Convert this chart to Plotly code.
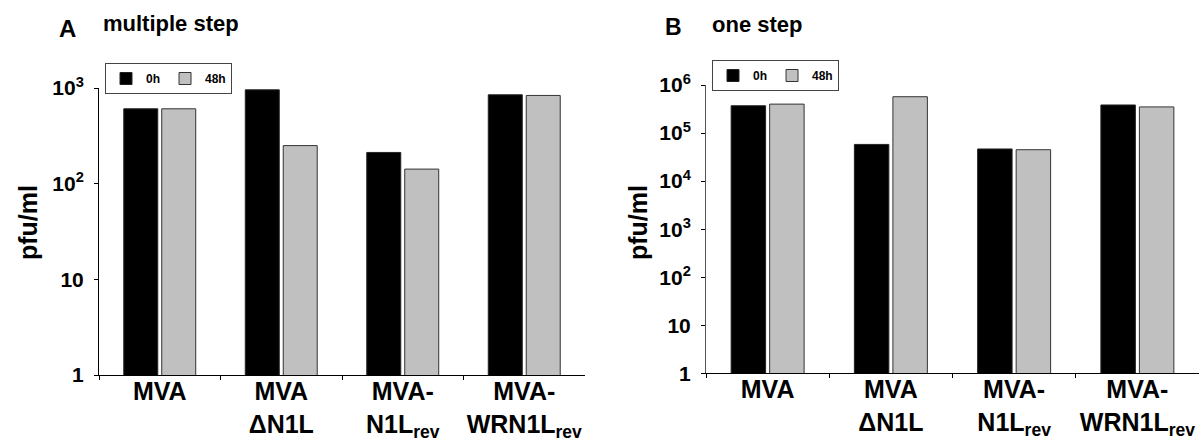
import plotly.graph_objects as go

# ---- data ----
categories = ["MVA", "MVA<br>ΔN1L", "MVA-<br>N1L<sub>rev</sub>", "MVA-<br>WRN1L<sub>rev</sub>"]
series_names = ["0h", "48h"]
multi_0h = [606, 957, 212, 849]
multi_48h = [606, 250, 142, 836]
one_0h = [3.7e5, 5.8e4, 4.66e4, 3.84e5]
one_48h = [4.0e5, 5.7e5, 4.5e4, 3.5e5]

tickvals_a = [1, 10, 100, 1000]
ticktext_a = ["1", "10", "10<sup>2</sup>", "10<sup>3</sup>"]
tickvals_b = [1, 10, 100, 1e3, 1e4, 1e5, 1e6]
ticktext_b = ["1", "10", "10<sup>2</sup>", "10<sup>3</sup>", "10<sup>4</sup>", "10<sup>5</sup>", "10<sup>6</sup>"]

FONT = "Liberation Sans, Arial, Helvetica, sans-serif"
W, H = 1200, 441
colors = ["#000000", "#c0c0c0"]
edges = ["#222222", "#333333"]

fig = go.Figure()
for i, (vals, name) in enumerate([(multi_0h, series_names[0]), (multi_48h, series_names[1])]):
    fig.add_trace(go.Bar(x=categories, y=vals, name=name, xaxis="x", yaxis="y",
                         marker=dict(color=colors[i], line=dict(color=edges[i], width=1)),
                         legend="legend"))
for i, (vals, name) in enumerate([(one_0h, series_names[0]), (one_48h, series_names[1])]):
    fig.add_trace(go.Bar(x=categories, y=vals, name=name, xaxis="x2", yaxis="y2",
                         marker=dict(color=colors[i], line=dict(color=edges[i], width=1)),
                         legend="legend2"))

def px_x(p):
    return p / W

def px_y(p):
    return (H - p) / H

tickfont_y = dict(family=FONT, size=21, color="black", weight="bold")
tickfont_x = dict(family=FONT, size=25, color="black", weight="bold")

xaxis_common = dict(type="category", showline=True, linecolor="black", linewidth=1,
                    ticks="outside", ticklen=4, tickcolor="black", tickson="boundaries",
                    tickfont=tickfont_x, showgrid=False, zeroline=False, automargin=False,
                    ticklabelstandoff=-6)
yaxis_common = dict(type="log", showline=True, linewidth=1, ticks="outside", ticklen=4,
                    tickcolor="black", tickfont=tickfont_y, showgrid=False, zeroline=False,
                    automargin=False, ticklabelstandoff=6)

legend_font = dict(family=FONT, size=12, color="black", weight="bold")

fig.update_layout(
    width=W, height=H,
    margin=dict(l=0, r=0, t=0, b=0, autoexpand=False),
    paper_bgcolor="white", plot_bgcolor="white",
    barmode="group", bargap=0.375, bargroupgap=0.105,
    font=dict(family=FONT, color="black"),
    xaxis=dict(domain=[px_x(99), px_x(585)], anchor="y", **xaxis_common),
    yaxis=dict(domain=[px_y(375), px_y(88)], anchor="x", range=[0, 3],
               tickvals=tickvals_a, ticktext=ticktext_a, linecolor="black", **yaxis_common),
    xaxis2=dict(domain=[px_x(706), px_x(1199)], anchor="y2", **xaxis_common),
    yaxis2=dict(domain=[px_y(373.3), px_y(85)], anchor="x2", range=[0, 6],
                tickvals=tickvals_b, ticktext=ticktext_b, linecolor="#555555", **yaxis_common),
    legend=dict(x=px_x(105), y=px_y(63), xanchor="left", yanchor="top", orientation="h",
                bordercolor="#444444", borderwidth=1, bgcolor="white", itemwidth=30,
                tracegroupgap=0, font=legend_font),
    legend2=dict(x=px_x(712), y=px_y(60), xanchor="left", yanchor="top", orientation="h",
                 bordercolor="#444444", borderwidth=1, bgcolor="white", itemwidth=30,
                 tracegroupgap=0, font=legend_font),
)

annotations = [
    dict(text="A", x=px_x(67), y=px_y(28), font=dict(size=24, weight="bold")),
    dict(text="multiple step", x=px_x(171), y=px_y(24), font=dict(size=22, weight="bold")),
    dict(text="B", x=px_x(673), y=px_y(27), font=dict(size=23, weight="bold")),
    dict(text="one step", x=px_x(757), y=px_y(25), font=dict(size=22, weight="bold")),
    dict(text="pfu/ml", x=px_x(28), y=px_y(223), textangle=-90, font=dict(size=25, weight="bold")),
    dict(text="pfu/ml", x=px_x(638), y=px_y(223), textangle=-90, font=dict(size=25, weight="bold")),
]
for a in annotations:
    a.update(xref="paper", yref="paper", showarrow=False, xanchor="center", yanchor="middle")
    a["font"].update(family=FONT, color="black")
fig.update_layout(annotations=annotations)

fig.write_html(
    "out.html",
    config={"displayModeBar": False},
    post_script="document.body.style.margin='0px';document.body.style.overflow='hidden';",
)
